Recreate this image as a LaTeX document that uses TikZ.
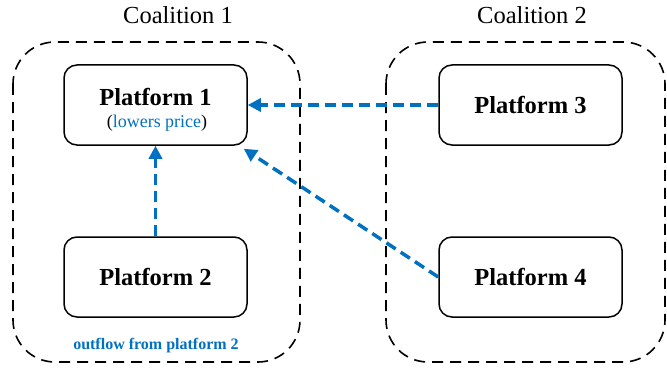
\documentclass[tikz,border=0pt]{standalone}
\usepackage{fontspec}
\setmainfont{Liberation Serif}
\usetikzlibrary{arrows.meta}
\definecolor{flowblue}{HTML}{0070C0}
\begin{document}
\begin{tikzpicture}[x=1pt,y=-1pt,
  coalbox/.style={draw=black,line width=1.6pt,dash pattern=on 11pt off 7pt,rounded corners=42pt},
  platbox/.style={draw=black,line width=1.5pt,rounded corners=13pt,minimum width=183pt,minimum height=80pt,inner sep=0pt,font=\fontsize{24.5}{28}\selectfont\bfseries,align=center},
  flow/.style={draw=flowblue,line width=3.5pt,dash pattern=on 11pt off 6pt,-{Triangle[length=13pt,width=13pt]}},
  ttl/.style={font=\fontsize{24.5}{28}\selectfont}]
\useasboundingbox (0,0) rectangle (667,369);
\draw[coalbox] (13,42) rectangle (300,362);
\draw[coalbox] (386,42) rectangle (665,362);
\node[ttl] (t1) at (178,15) {Coalition 1};
\node[ttl] (t2) at (532,15) {Coalition 2};
\node[platbox] (p1) at (155.5,105) {};
\node[font=\fontsize{24.5}{28}\selectfont\bfseries] (p1t) at (155.5,97) {Platform 1};
\node[font=\fontsize{18}{20}\selectfont] (p1s) at (157,123) {(\textcolor{flowblue}{lowers price})};
\node[platbox] (p2) at (155.5,277) {Platform 2};
\node[platbox] (p3) at (530.5,105) {Platform 3};
\node[platbox] (p4) at (530.5,277) {Platform 4};
\node[font=\fontsize{16}{18}\selectfont\bfseries,text=flowblue] (of) at (156,346) {outflow from platform 2};
\draw[flow] (p3.west) -- (p1.east);
\draw[flow] (p2.north) -- (p1.south);
\draw[flow] (p4.west) -- ([xshift=-4pt,yshift=-3pt]p1.south east);
\end{tikzpicture}
\end{document}
